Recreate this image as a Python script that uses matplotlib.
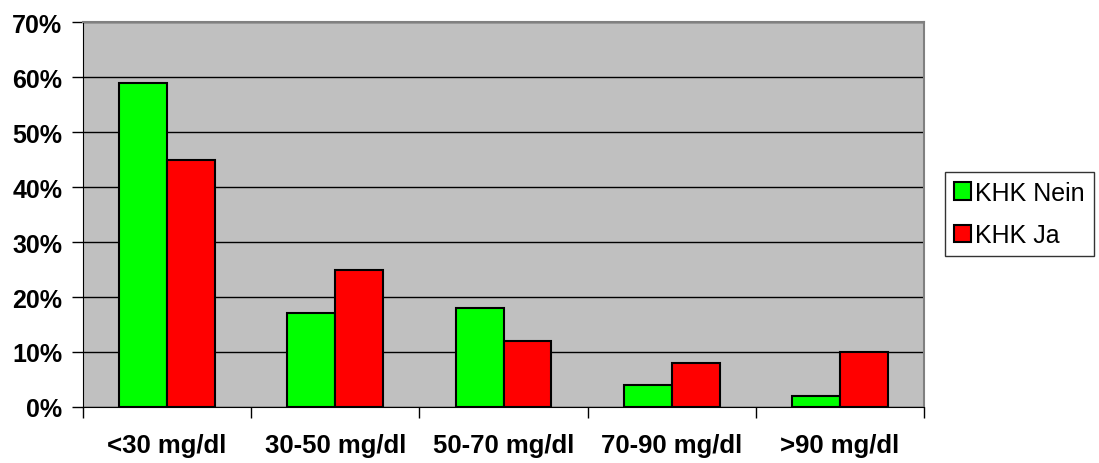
import numpy as np
import matplotlib.pyplot as plt
from matplotlib.ticker import FuncFormatter

categories = ['<30 mg/dl', '30-50 mg/dl', '50-70 mg/dl', '70-90 mg/dl', '>90 mg/dl']
khk_nein = [59, 17, 18, 4, 2]
khk_ja = [45, 25, 12, 8, 10]

plt.rcParams['font.family'] = ['Liberation Sans', 'DejaVu Sans']

fig = plt.figure(figsize=(10.99, 4.64), dpi=100)
ax = fig.add_axes([0.0755, 0.1207, 0.7653, 0.8297])

x = np.arange(len(categories))
w = 0.285
ax.bar(x - w/2, khk_nein, w, color='#00ff00', edgecolor='black', linewidth=1.5, label='KHK Nein', zorder=3)
ax.bar(x + w/2, khk_ja, w, color='#ff0000', edgecolor='black', linewidth=1.5, label='KHK Ja', zorder=3)

ax.set_facecolor('#c0c0c0')
ax.set_xlim(-0.5, len(categories) - 0.5)
ax.set_ylim(0, 70)
ax.set_yticks(np.arange(0, 71, 10))
ax.yaxis.set_major_formatter(FuncFormatter(lambda v, p: '%d%%' % v))
ax.yaxis.grid(True, color='black', linewidth=1, zorder=1)

# ticks between categories, labels centered
ax.set_xticks(np.arange(-0.5, len(categories), 1))
ax.set_xticklabels([])
ax.set_xticks(x, minor=True)
ax.set_xticklabels(categories, minor=True, fontsize=18.5, fontweight='bold')
ax.tick_params(axis='x', which='minor', length=0, pad=19)
ax.tick_params(axis='x', which='major', length=8, width=1)
ax.tick_params(axis='y', length=8, width=1, pad=7, labelsize=18)
for lab in ax.get_yticklabels():
    lab.set_fontweight('bold')

for s in ['top', 'right']:
    ax.spines[s].set_color('#808080')
    ax.spines[s].set_linewidth(1.5)
ax.spines['left'].set_color('black')
ax.spines['bottom'].set_color('black')

leg = fig.legend(loc='center left', bbox_to_anchor=(0.86, 0.5366), fontsize=18,
                 frameon=True, fancybox=False, edgecolor='black',
                 handlelength=0.7, handleheight=0.7, handletextpad=0.15,
                 borderpad=0.35, labelspacing=0.75, borderaxespad=0)
leg.get_frame().set_linewidth(1)

fig.savefig('out.png', dpi=100)
